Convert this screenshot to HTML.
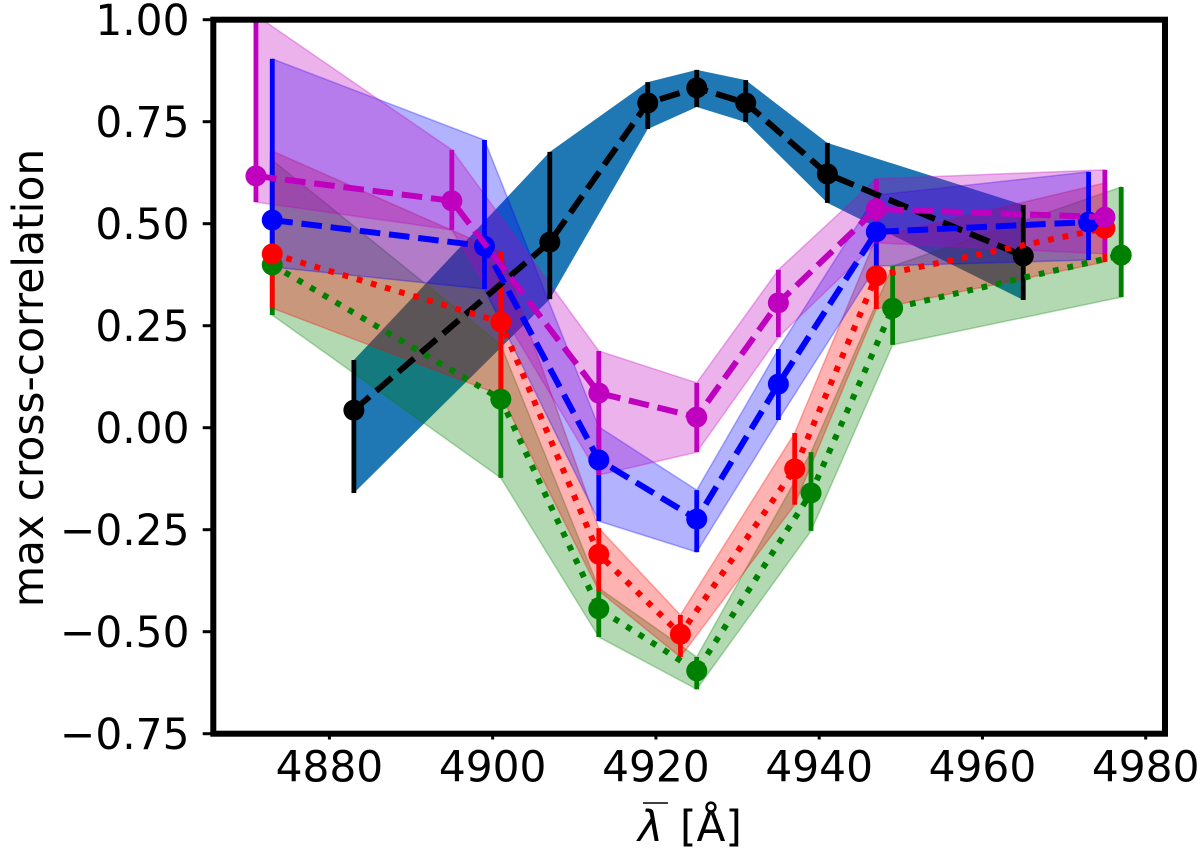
<!DOCTYPE html>
<html>
<head>
<meta charset="utf-8">
<title>max cross-correlation vs wavelength</title>
<style>
html,body{margin:0;padding:0;background:#fff;}
svg{display:block;}
text{font-family:"DejaVu Sans","Liberation Sans",sans-serif;fill:#000;}
</style>
</head>
<body>
<svg id="chart" xmlns="http://www.w3.org/2000/svg" width="1200" height="857" viewBox="0 0 1200 857"></svg>
<script>
const xTicks = [4880, 4900, 4920, 4940, 4960, 4980];
const yTicks = [1.00, 0.75, 0.50, 0.25, 0.00, -0.25, -0.50, -0.75];
const yTickLabels = ["1.00", "0.75", "0.50", "0.25", "0.00", "\u22120.25", "\u22120.50", "\u22120.75"];

const blackX = [4883, 4907, 4919, 4925, 4931, 4941, 4965];
const blackY = [0.043, 0.455, 0.796, 0.833, 0.796, 0.622, 0.421];
const blackHi = [0.166, 0.676, 0.847, 0.877, 0.852, 0.698, 0.546];
const blackLo = [-0.160, 0.315, 0.732, 0.786, 0.749, 0.551, 0.313];

const greenX = [4873, 4901, 4913, 4925, 4939, 4949, 4977];
const greenY = [0.399, 0.070, -0.444, -0.596, -0.160, 0.293, 0.423];
const greenHi = [0.656, 0.203, -0.393, -0.562, -0.060, 0.396, 0.590];
const greenLo = [0.276, -0.123, -0.513, -0.641, -0.253, 0.203, 0.320];

const redX = [4873, 4901, 4913, 4923, 4937, 4947, 4975];
const redY = [0.426, 0.259, -0.310, -0.506, -0.101, 0.372, 0.489];
const redHi = [0.678, 0.431, -0.246, -0.459, -0.013, 0.467, 0.600];
const redLo = [0.293, 0.080, -0.400, -0.562, -0.189, 0.291, 0.406];

const blueX = [4873, 4899, 4913, 4925, 4935, 4947, 4973];
const blueY = [0.509, 0.445, -0.079, -0.224, 0.107, 0.480, 0.504];
const blueHi = [0.904, 0.705, 0.002, -0.153, 0.193, 0.570, 0.627];
const blueLo = [0.394, 0.340, -0.229, -0.305, 0.019, 0.396, 0.411];

const magentaX = [4871, 4895, 4913, 4925, 4935, 4947, 4975];
const magentaY = [0.617, 0.556, 0.085, 0.026, 0.306, 0.536, 0.516];
const magentaHi = [1.011, 0.681, 0.188, 0.110, 0.387, 0.610, 0.632];
const magentaLo = [0.553, 0.485, -0.116, -0.060, 0.222, 0.453, 0.426];

const NS = 'http://www.w3.org/2000/svg';
const svg = document.getElementById('chart');
const plotLeft = 213.3, plotRight = 1165, plotTop = 19.7, plotBottom = 733.7;
function sx(v) { return 329.4 + (v - 4880) * 8.163; }
function sy(v) { return 19.7 + (1 - v) * 408; }
function make(tag, attrs, parent) {
  const el = document.createElementNS(NS, tag);
  for (const k in attrs) el.setAttribute(k, attrs[k]);
  (parent || svg).appendChild(el);
  return el;
}

const defs = make('defs', {});
const clip = make('clipPath', { id: 'plot-clip' }, defs);
make('rect', { x: plotLeft, y: plotTop, width: plotRight - plotLeft, height: plotBottom - plotTop }, clip);

const plot = make('g', { 'clip-path': 'url(#plot-clip)' });



const seriesList = [
  { key: 'black', xs: blackX, ys: blackY, hi: blackHi, lo: blackLo, color: '#000000', band: '#1f77b4', bandOpacity: 1, dash: '20.6 8.8' },
  { key: 'green', xs: greenX, ys: greenY, hi: greenHi, lo: greenLo, color: '#008000', band: '#008000', bandOpacity: 0.3, dash: '5.8 8.9' },
  { key: 'red', xs: redX, ys: redY, hi: redHi, lo: redLo, color: '#ff0000', band: '#ff0000', bandOpacity: 0.3, dash: '5.8 8.9' },
  { key: 'blue', xs: blueX, ys: blueY, hi: blueHi, lo: blueLo, color: '#0000ff', band: '#0000ff', bandOpacity: 0.3, dash: '20.6 8.8' },
  { key: 'magenta', xs: magentaX, ys: magentaY, hi: magentaHi, lo: magentaLo, color: '#bf00bf', band: '#bf00bf', bandOpacity: 0.3, dash: '20.6 8.8' }
];

/* bands */
seriesList.forEach(function (s) {
  const upper = s.xs.map(function (x, i) { return sx(x).toFixed(2) + ',' + sy(s.hi[i]).toFixed(2); });
  const lower = s.xs.map(function (x, i) { return sx(x).toFixed(2) + ',' + sy(s.lo[i]).toFixed(2); }).reverse();
  const band = make('polygon', {
    points: upper.concat(lower).join(' '),
    fill: s.band,
    'fill-opacity': s.bandOpacity,
    stroke: s.band,
    'stroke-opacity': s.bandOpacity,
    'stroke-width': s.bandOpacity === 1 ? 0 : 1.5
  }, plot);
  
  
});

/* error bars */
seriesList.forEach(function (s) {
  s.xs.forEach(function (x, i) {
    const bar = make('line', {
      x1: sx(x), x2: sx(x), y1: sy(s.hi[i]), y2: sy(s.lo[i]),
      stroke: s.color, 'stroke-width': 4.8
    }, plot);
    
    
  });
});

/* lines and markers */
seriesList.forEach(function (s) {
  const pts = s.xs.map(function (x, i) { return sx(x).toFixed(2) + ',' + sy(s.ys[i]).toFixed(2); }).join(' ');
  const line = make('polyline', {
    points: pts, fill: 'none', stroke: s.color,
    'stroke-width': 6, 'stroke-dasharray': s.dash, 'stroke-linejoin': 'round'
  }, plot);
  
  
  s.xs.forEach(function (x, i) {
    const dot = make('circle', { cx: sx(x), cy: sy(s.ys[i]), r: 10.5, fill: s.color }, plot);
    
    
  });
});

/* ticks and tick labels */
yTicks.forEach(function (v, i) {
  const tick = make('line', { x1: 202.7, x2: plotLeft, y1: sy(v), y2: sy(v), stroke: '#000', 'stroke-width': 3 });
  
  
  const label = make('text', { x: 189.5, y: sy(v) + 15.3, 'text-anchor': 'end', 'font-size': 42.3 });
  label.textContent = yTickLabels[i];
  
  
});
xTicks.forEach(function (v) {
  const tick = make('line', { x1: sx(v), x2: sx(v), y1: plotBottom, y2: 739.5, stroke: '#000', 'stroke-width': 3 });
  
  
  const label = make('text', { x: sx(v), y: 781.5, 'text-anchor': 'middle', 'font-size': 42.3 });
  label.textContent = String(v);
  
  
});

/* frame */
const frame = make('rect', {
  x: plotLeft, y: plotTop, width: plotRight - plotLeft, height: plotBottom - plotTop,
  fill: 'none', stroke: '#000', 'stroke-width': 6
});



/* axis titles */
const yTitle = make('text', {
  x: 0, y: 0, 'text-anchor': 'middle', 'font-size': 42.4,
  transform: 'translate(43 378) rotate(-90)'
});
yTitle.textContent = 'max cross-correlation';



const xTitle = make('g', {});


const lambda = make('text', { x: 638, y: 841, 'font-size': 42.3, 'font-style': 'italic' }, xTitle);
lambda.textContent = '\u03bb';
make('line', { x1: 643, x2: 668, y1: 803, y2: 803, stroke: '#000', 'stroke-width': 1.6 }, xTitle);
const unit = make('text', { x: 680, y: 841, 'font-size': 42.3 }, xTitle);
unit.textContent = '[\u00c5]';
</script>
</body>
</html>
